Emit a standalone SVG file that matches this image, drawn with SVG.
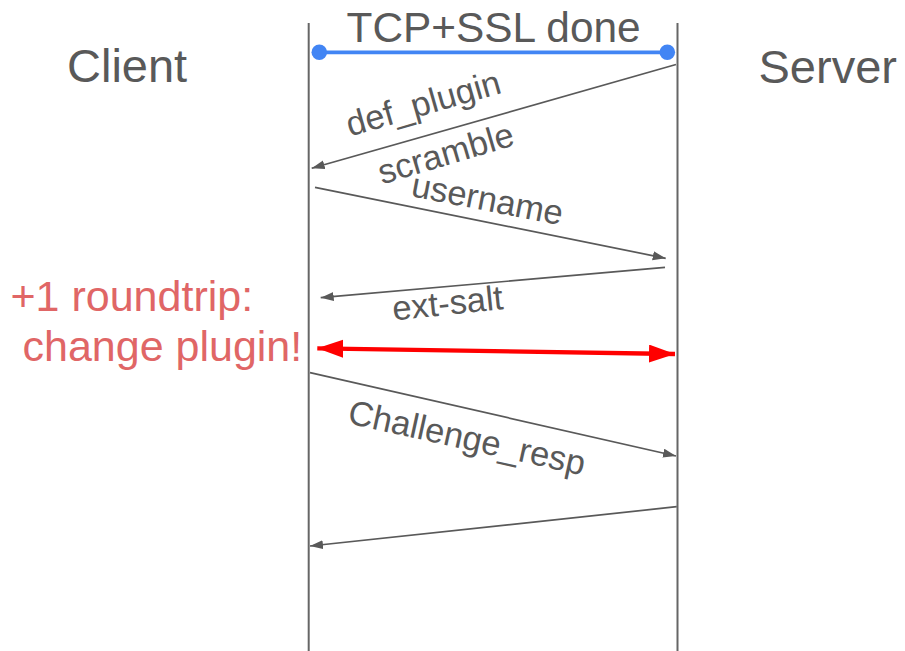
<svg xmlns="http://www.w3.org/2000/svg" width="905" height="651" viewBox="0 0 905 651">
  <style>
    text { font-family: "Liberation Sans", Arial, sans-serif; fill: #595959; }
    .actor { font-size: 47px; }
    .title { font-size: 42.4px; }
    .msg { font-size: 34.5px; }
    .note { font-size: 43px; fill: #e06666; }
    .lifeline { stroke: #666666; stroke-width: 2; fill: none; }
    .arrow { stroke: #595959; stroke-width: 1.7; fill: none; marker-end: url(#head); }
    .red { stroke: #ff0000; stroke-width: 4.3; fill: none; marker-start: url(#redHead); marker-end: url(#redHead); }
  </style>
  <defs>
    <marker id="head" markerUnits="userSpaceOnUse" markerWidth="14" markerHeight="10" refX="13" refY="4.5" orient="auto">
      <path d="M0,0 L13,4.5 L0,9 Z" fill="#595959"/>
    </marker>
    <marker id="redHead" markerUnits="userSpaceOnUse" markerWidth="27" markerHeight="19" refX="26" refY="9" orient="auto-start-reverse">
      <path d="M0,0 L26,9 L0,18 Z" fill="#ff0000"/>
    </marker>
  </defs>
  <rect width="905" height="651" fill="#ffffff"/>

  <!-- Client lifeline -->
  <g id="client">
    <line class="lifeline" x1="308.7" y1="23" x2="308.7" y2="651"/>
    <text class="actor" x="67" y="81.5">Client</text>
  </g>

  <!-- Server lifeline -->
  <g id="server">
    <line class="lifeline" x1="677.5" y1="23" x2="677.5" y2="651"/>
    <text class="actor" x="758.5" y="82.5">Server</text>
  </g>

  <!-- Established connection bar -->
  <g id="tcp-ssl">
    <line x1="319.3" y1="52.3" x2="667.3" y2="52.3" stroke="#4285f4" stroke-width="3.8"/>
    <circle cx="319.3" cy="52.3" r="7.8" fill="#4285f4"/>
    <circle cx="667.3" cy="52.3" r="7.8" fill="#4285f4"/>
    <text class="title" x="346.5" y="42">TCP+SSL done</text>
  </g>

  <!-- Messages -->
  <g id="connectors">
    <line class="arrow" x1="676" y1="64.5" x2="311.7" y2="168.3"/>
    <line class="arrow" x1="315" y1="187.3" x2="665.7" y2="258.3"/>
    <line class="arrow" x1="665" y1="267.3" x2="320.7" y2="297.7"/>
    <line class="red" x1="317.3" y1="348.3" x2="675" y2="354"/>
    <line class="arrow" x1="310" y1="372.7" x2="676" y2="456"/>
    <line class="arrow" x1="676.7" y1="506.7" x2="310" y2="546"/>
  </g>

  <!-- Message labels -->
  <g id="labels">
    <text class="msg" transform="translate(350 136.5) rotate(-16)">def_plugin</text>
    <text class="msg" transform="translate(382 184.5) rotate(-16.5)">scramble</text>
    <text class="msg" transform="translate(410 196) rotate(11)">username</text>
    <text class="msg" transform="translate(393.5 320.5) rotate(-6)">ext-salt</text>
    <text class="msg" transform="translate(346.5 423) rotate(12.5)">Challenge_resp</text>
  </g>

  <!-- Extra round trip note -->
  <g id="note">
    <text class="note" x="10.5" y="310.5">+1 roundtrip:</text>
    <text class="note" x="22.5" y="360.5">change plugin!</text>
  </g>
</svg>
